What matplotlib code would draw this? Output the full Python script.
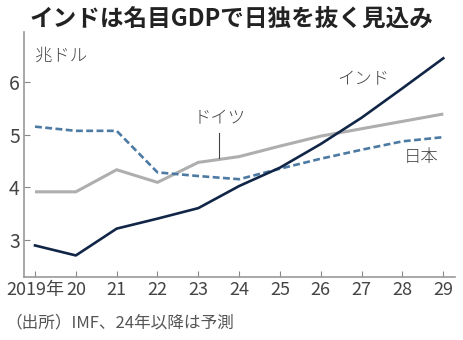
import matplotlib
matplotlib.use("Agg")
import matplotlib.pyplot as plt

plt.rcParams["font.family"] = ["Noto Sans CJK JP", "DejaVu Sans"]

years = [2019, 2020, 2021, 2022, 2023, 2024, 2025, 2026, 2027, 2028, 2029]
year_labels = ["2019年", "20", "21", "22", "23", "24", "25", "26", "27", "28", "29"]
india = [2.89, 2.70, 3.21, 3.40, 3.60, 4.02, 4.37, 4.82, 5.32, 5.88, 6.45]
germany = [3.91, 3.91, 4.33, 4.09, 4.47, 4.58, 4.78, 4.97, 5.11, 5.25, 5.39]
japan = [5.15, 5.07, 5.07, 4.28, 4.21, 4.15, 4.35, 4.54, 4.71, 4.87, 4.95]
y_ticks = [3, 4, 5, 6]

fig = plt.figure(figsize=(4.63, 3.40), dpi=100)
ax = fig.add_axes([0.0518, 0.1853, 0.9312, 0.7206])

ax.plot(years, germany, color="#aeaeae", lw=2.2, solid_capstyle="butt")
ax.plot(years, japan, color="#4d7aa3", lw=1.9, linestyle=(0, (2.6, 1.3)))
ax.plot(years, india, color="#112647", lw=1.9)

ax.set_xlim(2018.73, 2029.29)
ax.set_ylim(2.29, 6.95)
ax.set_xticks(years)
ax.set_xticklabels(year_labels)
ax.set_yticks(y_ticks)
ax.tick_params(axis="both", direction="in", length=4, width=0.8, color="#888888",
               labelcolor="#444444", pad=3)
ax.tick_params(axis="x", labelsize=13)
ax.tick_params(axis="y", labelsize=14)
for s in ["top", "right"]:
    ax.spines[s].set_visible(False)
for s in ["left", "bottom"]:
    ax.spines[s].set_color("#999999")
    ax.spines[s].set_linewidth(1.2)

lab_kw = dict(fontsize=12.5, color="#444444", fontweight="light", va="center")
ax.text(2019.0, 6.49, "兆ドル", ha="left", **lab_kw)
ax.text(2027.04, 6.07, "インド", ha="center", **lab_kw)
ax.text(2023.53, 5.33, "ドイツ", ha="center", **lab_kw)
ax.plot([2023.51, 2023.51], [5.02, 4.55], color="#444444", lw=0.8)
ax.text(2028.46, 4.57, "日本", ha="center", **lab_kw)

fig.text(0.5, 0.944, "インドは名目GDPで日独を抜く見込み", fontsize=17, fontweight="bold",
         color="#222222", ha="center", va="center")
fig.text(0.012, 0.05, "（出所）IMF、24年以降は予測", fontsize=12, color="#555555",
         ha="left", va="center")

fig.savefig("out.png", dpi=100)
